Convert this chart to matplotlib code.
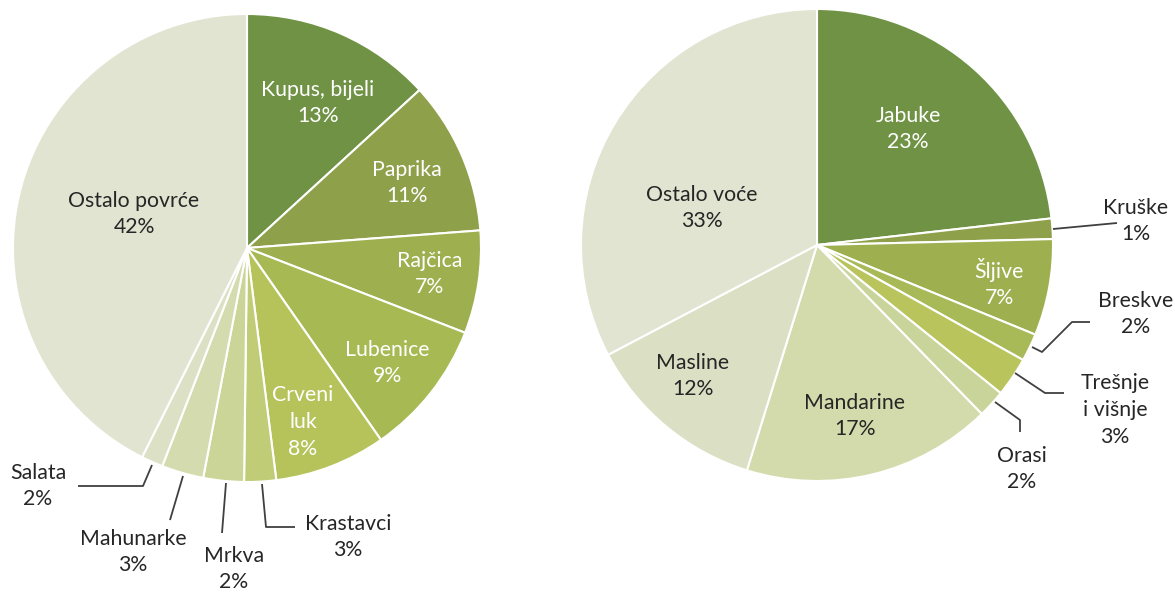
import numpy as np
import matplotlib.pyplot as plt

# podaci - povrce
povrce = ['Kupus, bijeli', 'Paprika', 'Rajčica', 'Lubenice', 'Crveni\nluk',
          'Krastavci', 'Mrkva', 'Mahunarke', 'Salata', 'Ostalo povrće']
povrce_udio = [13.2, 10.6, 7.1, 9.4, 7.7, 2.2, 2.8, 2.9, 1.5, 42.6]
povrce_pct = ['13%', '11%', '7%', '9%', '8%', '3%', '2%', '3%', '2%', '42%']

# podaci - voce
voce = ['Jabuke', 'Kruške', 'Šljive', 'Breskve', 'Trešnje\ni višnje', 'Orasi',
        'Mandarine', 'Masline', 'Ostalo voće']
voce_udio = [23.2, 1.4, 6.6, 1.9, 2.7, 1.9, 17.1, 12.5, 32.7]
voce_pct = ['23%', '1%', '7%', '2%', '3%', '2%', '17%', '12%', '33%']

boje_povrce = ['#6f9245', '#8fa04b', '#9daf4f', '#a7b952', '#b6c35a',
               '#c0cc76', '#cad597', '#d4dcaf', '#dce1c5', '#e1e4d1']
boje_voce = ['#6f9245', '#8fa04b', '#9daf4f', '#a8b957', '#b9c55c',
             '#c9d49a', '#d3dbac', '#dbe0c4', '#e1e4d1']

W, H = 1175, 594
plt.rcParams['font.family'] = ['Lato', 'DejaVu Sans']
fs = 15.3
tamna = '#262626'
svijetla = '#ffffff'

fig = plt.figure(figsize=(W / 100, H / 100), dpi=100)
ax = fig.add_axes([0, 0, 1, 1])

def Y(y):
    return H - y

ax.pie(povrce_udio, colors=boje_povrce, startangle=90, counterclock=False,
       center=(247, Y(248)), radius=234,
       wedgeprops=dict(edgecolor='white', linewidth=1.5))
ax.pie(voce_udio, colors=boje_voce, startangle=90, counterclock=False,
       center=(817, Y(245)), radius=236,
       wedgeprops=dict(edgecolor='white', linewidth=1.5))

def natpis(x, y, ime, pct, boja):
    ax.text(x, Y(y), ime + '\n' + pct, ha='center', va='center', fontsize=fs,
            color=boja, linespacing=1.42)

def linija(tocke):
    xs = [p[0] for p in tocke]
    ys = [Y(p[1]) for p in tocke]
    ax.plot(xs, ys, color='#404040', lw=1.3, solid_capstyle='butt')

# lijevi graf
mjesta_povrce = [(318, 103, svijetla), (407, 183, svijetla), (430, 274, svijetla),
                 (387, 363, svijetla), (303, 422, svijetla), (348, 537, tamna),
                 (234, 569, tamna), (133, 552, tamna), (38, 486, tamna),
                 (134, 214, tamna)]
for i in range(len(povrce)):
    x, y, b = mjesta_povrce[i]
    natpis(x, y, povrce[i], povrce_pct[i], b)

linija([(152, 465), (143, 486), (78, 486)])
linija([(183, 476), (170, 520)])
linija([(226, 483), (222, 533)])
linija([(262, 484), (266, 527), (295, 527)])

# desni graf
mjesta_voce = [(908, 129, svijetla), (1136, 221, tamna), (999, 283, svijetla),
               (1136, 314, tamna), (1115, 410, tamna), (1022, 469, tamna),
               (855, 416, tamna), (693, 376, tamna), (702, 208, tamna)]
for i in range(len(voce)):
    x, y, b = mjesta_voce[i]
    natpis(x, y, voce[i], voce_pct[i], b)

linija([(1053, 229), (1117, 223)])
linija([(1032, 347), (1042, 352), (1072, 322), (1090, 322)])
linija([(1015, 373), (1045, 393), (1064, 393)])
linija([(995, 402), (1020, 420), (1020, 432)])

ax.set_xlim(0, W)
ax.set_ylim(0, H)
ax.set_aspect('auto')
ax.axis('off')

plt.savefig('out.png', dpi=100)
